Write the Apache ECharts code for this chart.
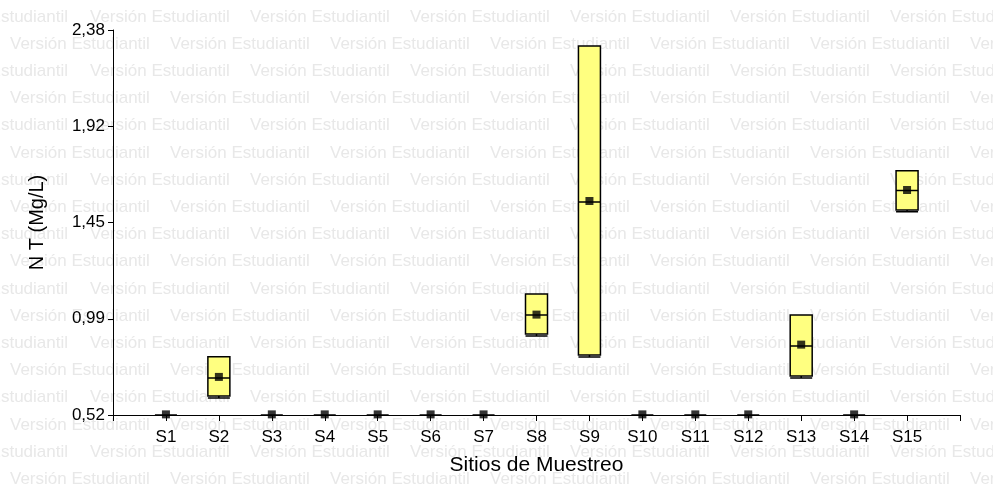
<!DOCTYPE html>
<html>
<head>
<meta charset="utf-8">
<script src="https://cdn.jsdelivr.net/npm/echarts@6/dist/echarts.min.js"></script>
<style>
  html, body { margin: 0; padding: 0; background: #fff; }
  #grafico { width: 993px; height: 488px; }
</style>
</head>
<body>
<div id="grafico"></div>
<script>
// datos (N total, Mg/L)
var sitios   = ['S1','S2','S3','S4','S5','S6','S7','S8','S9','S10','S11','S12','S13','S14','S15'];
var minimos  = [0.52, 0.602, 0.52, 0.52, 0.52, 0.52, 0.52, 0.902, 0.800, 0.52, 0.52, 0.52, 0.699, 0.52, 1.502];
var q1       = [0.52, 0.612, 0.52, 0.52, 0.52, 0.52, 0.52, 0.911, 0.810, 0.52, 0.52, 0.52, 0.708, 0.52, 1.510];
var medianas = [0.52, 0.699, 0.52, 0.52, 0.52, 0.52, 0.52, 1.003, 1.549, 0.52, 0.52, 0.52, 0.853, 0.52, 1.604];
var q3       = [0.52, 0.802, 0.52, 0.52, 0.52, 0.52, 0.52, 1.105, 2.303, 0.52, 0.52, 0.52, 1.003, 0.52, 1.700];
var maximos  = [0.52, 0.802, 0.52, 0.52, 0.52, 0.52, 0.52, 1.105, 2.303, 0.52, 0.52, 0.52, 1.003, 0.52, 1.700];
var medias   = [0.523, 0.704, 0.523, 0.523, 0.523, 0.523, 0.523, 1.005, 1.554, 0.523, 0.523, 0.523, 0.860, 0.523, 1.607];
var yTicks      = [0.52, 0.985, 1.45, 1.915, 2.38];
var yTickLabels = ['0,52', '0,99', '1,45', '1,92', '2,38'];

var fuente = '"Liberation Sans", Arial, sans-serif';

// eje x con un hueco vacio a cada lado
var categorias = [''].concat(sitios, ['']);

var cajas = [];
var puntos = [];
sitios.forEach(function (s, i) {
  cajas.push([i + 1, minimos[i], q1[i], medianas[i], q3[i], maximos[i]]);
  puntos.push([i + 1, medias[i]]);
});

// marca de agua "Versión Estudiantil"
function textoMarca(x, y, align) {
  return {
    type: 'text',
    x: x,
    y: y,
    z: -10,
    silent: true,
    style: {
      text: 'Versión Estudiantil',
      fill: '#e8e8e8',
      font: '17px ' + fuente,
      align: align,
      verticalAlign: 'middle'
    }
  };
}
var marca = [];
for (var r = 0; r < 18; r++) {
  var y = 17 + r * 27.2;
  var x0 = (r % 2 === 0) ? 90 : 10;
  if (r % 2 === 0) {
    // trozo cortado en el borde izquierdo ("...tudiantil")
    marca.push(textoMarca(x0 - 22, y, 'right'));
  }
  for (var x = x0; x < 1000; x += 160) {
    marca.push(textoMarca(x, y, 'left'));
  }
}

var chart = echarts.init(document.getElementById('grafico'));
chart.setOption({
  animation: false,
  backgroundColor: '#fff',
  textStyle: { fontFamily: fuente, color: '#000' },
  graphic: { elements: marca },
  grid: { left: 113, right: 33, top: 30, bottom: 73 },
  xAxis: {
    type: 'category',
    data: categorias,
    boundaryGap: false,
    name: 'Sitios de Muestreo',
    nameLocation: 'middle',
    nameGap: 40,
    nameTextStyle: { fontSize: 21, color: '#000', fontFamily: fuente },
    axisLine: { lineStyle: { color: '#000', width: 1 } },
    axisTick: { show: true, interval: 0, length: 6, lineStyle: { color: '#000' } },
    axisLabel: { interval: 0, fontSize: 17, color: '#000', margin: 14, fontFamily: fuente },
    splitLine: { show: false }
  },
  yAxis: {
    type: 'value',
    min: 0.52,
    max: 2.38,
    name: 'N T (Mg/L)',
    nameLocation: 'middle',
    nameGap: 66,
    nameTextStyle: { fontSize: 20, color: '#000', fontFamily: fuente },
    axisLine: { show: true, lineStyle: { color: '#000', width: 1 } },
    axisTick: { show: true, length: 5, customValues: yTicks, lineStyle: { color: '#000' } },
    axisLabel: {
      customValues: yTicks,
      fontSize: 17,
      color: '#000',
      margin: 8,
      fontFamily: fuente,
      formatter: function (v) {
        var k = 0;
        for (var i = 1; i < yTicks.length; i++) {
          if (Math.abs(yTicks[i] - v) < Math.abs(yTicks[k] - v)) k = i;
        }
        return yTickLabels[k];
      }
    },
    splitLine: { show: false }
  },
  series: [
    {
      type: 'boxplot',
      data: cajas,
      encode: { x: 0, y: [1, 2, 3, 4, 5] },
      boxWidth: [22, 22],
      itemStyle: { color: '#ffff80', borderColor: '#000', borderWidth: 1.5 },
      z: 3
    },
    {
      type: 'scatter',
      data: puntos,
      symbol: 'rect',
      symbolSize: 8,
      clip: false,
      itemStyle: { color: '#000' },
      z: 4
    }
  ]
});
</script>
</body>
</html>
